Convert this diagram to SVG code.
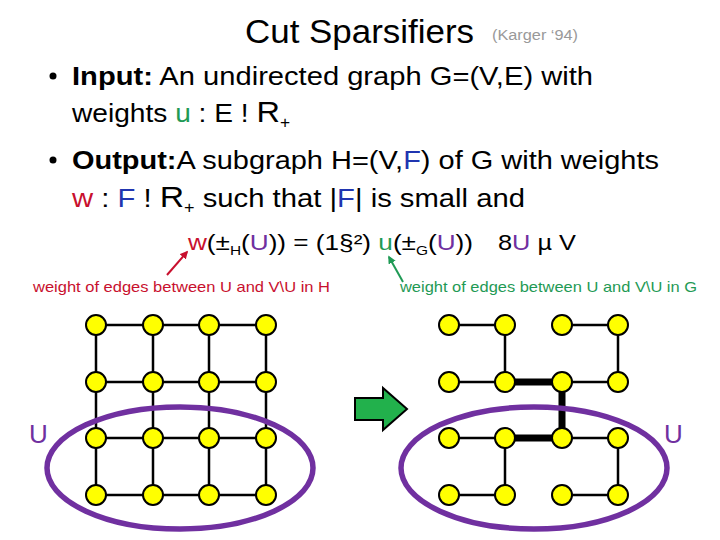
<svg xmlns="http://www.w3.org/2000/svg" width="720" height="540" viewBox="0 0 720 540">
<defs>
<style>
text{font-family:"Liberation Sans",Arial,sans-serif;fill:#000}
.b{font-size:26px}
.red{fill:#c8102e}
.grn{fill:#1f9a55}
.blu{fill:#2035b0}
.pur{fill:#7030a0}
.e{stroke:#000;stroke-width:2.5;fill:none}
.t{stroke:#000;stroke-width:7;fill:none}
.n circle{fill:#ffff00;stroke:#000;stroke-width:2}
.cut{fill:none;stroke:#7030a0;stroke-width:5.5}
</style>
<marker id="ar" viewBox="0 0 10 10" refX="8" refY="5" markerWidth="4" markerHeight="4" orient="auto"><path d="M0,0L10,5L0,10z" fill="#c8102e"/></marker>
<marker id="ag" viewBox="0 0 10 10" refX="8" refY="5" markerWidth="4" markerHeight="4" orient="auto"><path d="M0,0L10,5L0,10z" fill="#1f9a55"/></marker>
</defs>
<rect width="720" height="540" fill="#fff"/>
<text x="245" y="43" font-size="34" textLength="229" lengthAdjust="spacingAndGlyphs">Cut Sparsifiers</text>
<text x="492" y="40" font-size="14" style="fill:#999" textLength="86" lengthAdjust="spacingAndGlyphs">(Karger ‘94)</text>
<circle cx="53" cy="76" r="3.5" fill="#000"/>
<text class="b" x="72" y="85" textLength="521" lengthAdjust="spacingAndGlyphs"><tspan font-weight="bold">Input:</tspan> An undirected graph G=(V,E) with</text>
<text class="b" x="72" y="122" textLength="218" lengthAdjust="spacingAndGlyphs">weights <tspan class="grn">u</tspan> : E ! <tspan font-size="30">R</tspan><tspan font-size="16" dy="6">+</tspan></text>
<circle cx="53" cy="160" r="3.5" fill="#000"/>
<text class="b" x="72" y="169" textLength="587" lengthAdjust="spacingAndGlyphs"><tspan font-weight="bold">Output:</tspan>A subgraph H=(V,<tspan class="blu">F</tspan>) of G with weights</text>
<text class="b" x="72" y="207" textLength="453" lengthAdjust="spacingAndGlyphs"><tspan class="red">w</tspan> : <tspan class="blu">F</tspan> ! <tspan font-size="30">R</tspan><tspan font-size="16" dy="6">+</tspan><tspan dy="-6"> such that |</tspan><tspan class="blu">F</tspan>| is small and</text>
<text x="188" y="250" font-size="22" textLength="285" lengthAdjust="spacingAndGlyphs"><tspan class="red">w</tspan>(±<tspan font-size="13" dy="5">H</tspan><tspan dy="-5">(</tspan><tspan class="pur">U</tspan>)) = (1§²) <tspan class="grn">u</tspan>(±<tspan font-size="13" dy="5">G</tspan><tspan dy="-5">(</tspan><tspan class="pur">U</tspan>))</text>
<text x="498" y="250" font-size="22" textLength="78" lengthAdjust="spacingAndGlyphs">8<tspan class="pur">U</tspan> µ V</text>
<text x="33" y="292" font-size="15" class="red" textLength="297" lengthAdjust="spacingAndGlyphs">weight of edges between U and V\U in H</text>
<text x="400" y="292" font-size="15" class="grn" textLength="297" lengthAdjust="spacingAndGlyphs">weight of edges between U and V\U in G</text>
<g id="connectors">
<line x1="167" y1="275" x2="187" y2="252" stroke="#c8102e" stroke-width="2" marker-end="url(#ar)"/>
<line x1="403" y1="282" x2="389" y2="257" stroke="#1f9a55" stroke-width="2" marker-end="url(#ag)"/>
<path class="e" d="M96,325H266M96,382H266M96,438H266M96,495H266M96,325V495M153,325V495M209,325V495M266,325V495"/>
<path class="e" d="M449,325H505M562,325H618M505,325V382M618,325V382M449,382H505M562,382H618M449,438H505M562,438H618M505,438V495M618,438V495M449,495H505M562,495H618"/>
<path class="t" d="M505,382H562V438H505"/>
</g>
<g id="left-graph" class="n">
<circle cx="96" cy="325" r="10"/><circle cx="153" cy="325" r="10"/><circle cx="209" cy="325" r="10"/><circle cx="266" cy="325" r="10"/>
<circle cx="96" cy="382" r="10"/><circle cx="153" cy="382" r="10"/><circle cx="209" cy="382" r="10"/><circle cx="266" cy="382" r="10"/>
<circle cx="96" cy="438" r="10"/><circle cx="153" cy="438" r="10"/><circle cx="209" cy="438" r="10"/><circle cx="266" cy="438" r="10"/>
<circle cx="96" cy="495" r="10"/><circle cx="153" cy="495" r="10"/><circle cx="209" cy="495" r="10"/><circle cx="266" cy="495" r="10"/>
</g>
<g id="right-graph" class="n">
<circle cx="449" cy="325" r="10"/><circle cx="505" cy="325" r="10"/><circle cx="562" cy="325" r="10"/><circle cx="618" cy="325" r="10"/>
<circle cx="449" cy="382" r="10"/><circle cx="505" cy="382" r="10"/><circle cx="562" cy="382" r="10"/><circle cx="618" cy="382" r="10"/>
<circle cx="449" cy="438" r="10"/><circle cx="505" cy="438" r="10"/><circle cx="562" cy="438" r="10"/><circle cx="618" cy="438" r="10"/>
<circle cx="449" cy="495" r="10"/><circle cx="505" cy="495" r="10"/><circle cx="562" cy="495" r="10"/><circle cx="618" cy="495" r="10"/>
</g>
<g id="cut-left"><ellipse class="cut" cx="180" cy="468" rx="133" ry="61"/><text x="29" y="443" font-size="26" class="pur">U</text></g>
<g id="cut-right"><ellipse class="cut" cx="534" cy="468" rx="133" ry="61"/><text x="664" y="443" font-size="26" class="pur">U</text></g>
<g id="arrow"><path d="M355,398H383V388L407,409L383,430V420H355Z" fill="#22b14c" stroke="#000" stroke-width="2"/></g>
</svg>
